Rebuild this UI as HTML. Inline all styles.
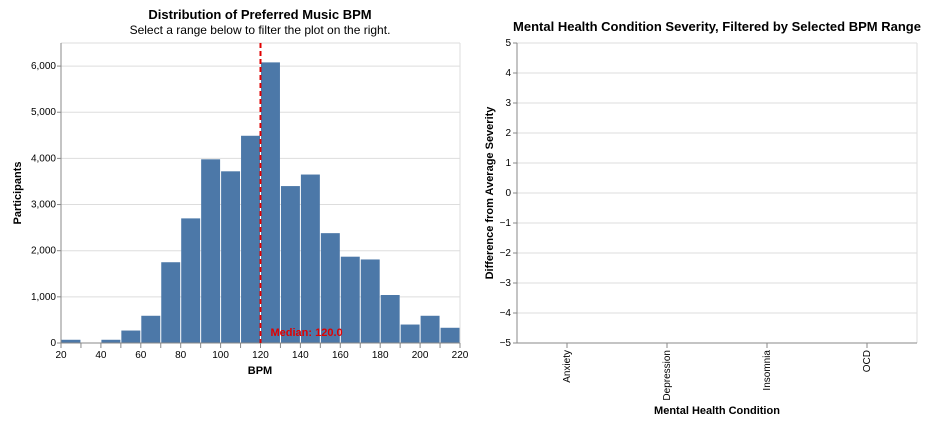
<!DOCTYPE html>
<html><head><meta charset="utf-8"><style>
body{margin:0;background:#fff;font-family:"Liberation Sans",Arial,sans-serif;}
svg text{font-family:"Liberation Sans",Arial,sans-serif;}
</style></head><body>
<svg id="c" width="926" height="422"></svg>
<script>
const binStarts=[20,30,40,50,60,70,80,90,100,110,120,130,140,150,160,170,180,190,200,210];
const counts=[70,0,70,270,590,1750,2700,3980,3720,4490,6080,3400,3650,2380,1870,1810,1040,400,590,330];
const xTicks=[20,40,60,80,100,120,140,160,180,200,220];
const yTicks=[0,1000,2000,3000,4000,5000,6000];
const median=120;
const conditions=["Anxiety","Depression","Insomnia","OCD"];
const rTicks=[-5,-4,-3,-2,-1,0,1,2,3,4,5];
const NS='http://www.w3.org/2000/svg';
const svg=document.getElementById('c');
function mk(t,a,p){const e=document.createElementNS(NS,t);for(const k in a)e.setAttribute(k,a[k]);(p||svg).appendChild(e);return e;}
const L={x0:61,x1:460,y0:343,y1:43};
const xs=v=>L.x0+(v-20)*(L.x1-L.x0)/200;
const ys=v=>L.y0-v*(L.y0-L.y1)/6500;
const g1=mk('g',{});
yTicks.forEach(t=>{const l=mk('line',{x1:L.x0,x2:L.x1,y1:ys(t),y2:ys(t),stroke:'#ddd'},g1);
const tx=mk('text',{x:L.x0-5,y:ys(t)+3,'text-anchor':'end','font-size':10,fill:'#000'},g1);tx.textContent=t.toLocaleString('en-US');
mk('line',{x1:L.x0-4,x2:L.x0,y1:ys(t),y2:ys(t),stroke:'#888'},g1);});
mk('line',{x1:L.x1,x2:L.x1,y1:L.y1,y2:L.y0,stroke:'#ddd'},g1);
mk('line',{x1:L.x0,x2:L.x1,y1:L.y1,y2:L.y1,stroke:'#ddd'},g1);
binStarts.forEach((b,i)=>{if(!counts[i])return;const r=mk('rect',{x:xs(b)+0.5,y:ys(counts[i]),width:xs(b+10)-xs(b)-1,height:L.y0-ys(counts[i]),fill:'#4c78a8'},g1);});
mk('line',{x1:L.x0,x2:L.x0,y1:L.y1,y2:L.y0,stroke:'#888'},g1);
mk('line',{x1:L.x0,x2:L.x1,y1:L.y0,y2:L.y0,stroke:'#888'},g1);
for(let v=20;v<=220;v+=10)mk('line',{x1:xs(v),x2:xs(v),y1:L.y0,y2:L.y0+5,stroke:'#888'},g1);
xTicks.forEach(t=>{const tx=mk('text',{x:xs(t),y:L.y0+15,'text-anchor':'middle','font-size':10},g1);tx.textContent=t;});
const ml=mk('line',{x1:xs(median),x2:xs(median),y1:L.y1,y2:L.y0,stroke:'#e00000','stroke-width':2,'stroke-dasharray':'5,3'},g1);
const mt=mk('text',{x:xs(median)+10,y:336,'font-size':11,'font-weight':'bold',fill:'#e00000'},g1);mt.textContent='Median: '+median.toFixed(1);
let t=mk('text',{x:260,y:19,'text-anchor':'middle','font-size':13,'font-weight':'bold'});t.textContent='Distribution of Preferred Music BPM';
t=mk('text',{x:260,y:34,'text-anchor':'middle','font-size':12});t.textContent='Select a range below to filter the plot on the right.';
t=mk('text',{x:260,y:374,'text-anchor':'middle','font-size':11,'font-weight':'bold'});t.textContent='BPM';
t=mk('text',{x:0,y:0,'text-anchor':'middle','font-size':11,'font-weight':'bold',transform:'translate(21,193) rotate(-90)'});t.textContent='Participants';
// right
const R={x0:517,x1:917,y0:343,y1:43};
const ry=v=>R.y0-(v+5)*(R.y0-R.y1)/10;
const bw=(R.x1-R.x0)/conditions.length;
const g2=mk('g',{});
rTicks.forEach(v=>{mk('line',{x1:R.x0,x2:R.x1,y1:ry(v),y2:ry(v),stroke:'#ddd'},g2);mk('line',{x1:R.x0-4,x2:R.x0,y1:ry(v),y2:ry(v),stroke:'#888'},g2);
const tx=mk('text',{x:R.x0-6,y:ry(v)+3,'text-anchor':'end','font-size':10},g2);tx.textContent=v<0?'\u2212'+(-v):v;});
mk('line',{x1:R.x1,x2:R.x1,y1:R.y1,y2:R.y0,stroke:'#ddd'},g2);
mk('line',{x1:R.x0,x2:R.x0,y1:R.y1,y2:R.y0,stroke:'#888'},g2);
mk('line',{x1:R.x0,x2:R.x1,y1:R.y0,y2:R.y0,stroke:'#888'},g2);
conditions.forEach((c,i)=>{const cx=R.x0+bw*(i+0.5);mk('line',{x1:cx,x2:cx,y1:R.y0,y2:R.y0+5,stroke:'#888'},g2);
const tx=mk('text',{x:0,y:0,'text-anchor':'end','font-size':10,transform:`translate(${cx+3},${R.y0+7}) rotate(-90)`},g2);tx.textContent=c;});
t=mk('text',{x:717,y:31,'text-anchor':'middle','font-size':13,'font-weight':'bold'});t.textContent='Mental Health Condition Severity, Filtered by Selected BPM Range';
t=mk('text',{x:717,y:414,'text-anchor':'middle','font-size':11,'font-weight':'bold'});t.textContent='Mental Health Condition';
t=mk('text',{x:0,y:0,'text-anchor':'middle','font-size':11,'font-weight':'bold',transform:'translate(493,193) rotate(-90)'});t.textContent='Difference from Average Severity';
</script>
</body></html>
